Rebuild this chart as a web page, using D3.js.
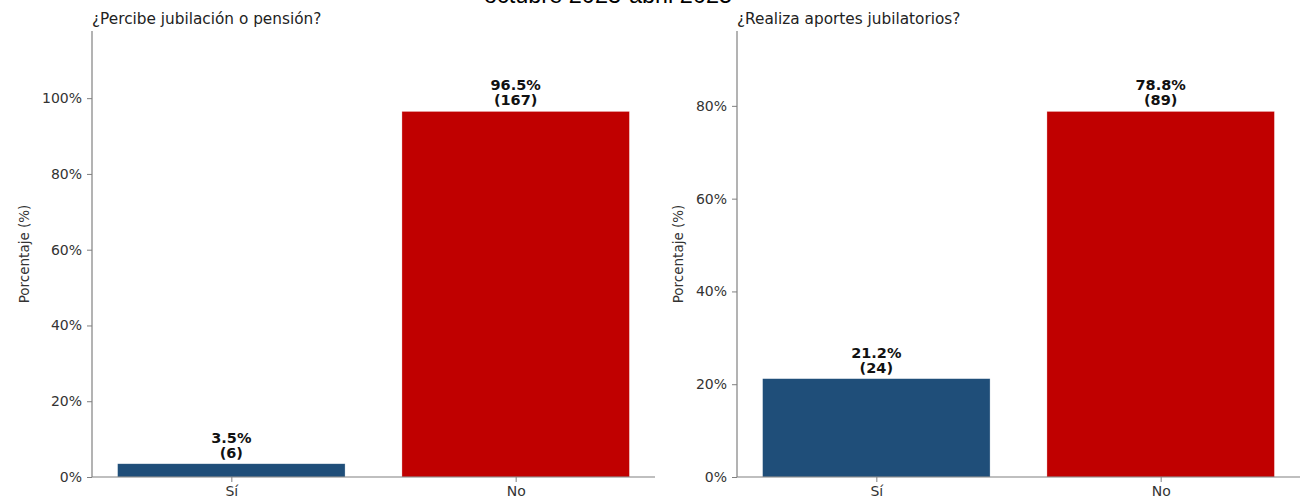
<!DOCTYPE html>
<html><head><meta charset="utf-8">
<script src="https://cdn.jsdelivr.net/npm/d3@7/dist/d3.min.js"></script>
<style>body{margin:0;background:#fff}svg{display:block}</style>
</head><body>
<svg id="c" width="1311" height="504"></svg>
<script>
const suptitle = "octubre 2023-abril 2025";
const categories = ["Sí", "No"];
const panelTitles = ["¿Percibe jubilación o pensión?", "¿Realiza aportes jubilatorios?"];
const pensionPct = [3.5, 96.5];
const pensionN = [6, 167];
const aportesPct = [21.2, 78.8];
const aportesN = [24, 89];
const pensionTicks = [0, 20, 40, 60, 80, 100];
const aportesTicks = [0, 20, 40, 60, 80];
const barColors = ["#1f4e79", "#c00000"];

const svg = d3.select("#c");
svg.append("text").attr("x", 608).attr("y", 3).attr("text-anchor", "middle")
  .attr("font-family", "Liberation Sans, Arial, sans-serif").attr("font-size", 23.5)
  .attr("fill", "#000").text(suptitle);

const panels = [
  {x0: 92, x1: 655, title: panelTitles[0], pct: pensionPct, n: pensionN, ticks: pensionTicks},
  {x0: 737, x1: 1300, title: panelTitles[1], pct: aportesPct, n: aportesN, ticks: aportesTicks}
];
const yTop = 31, yBot = 477;
const font = "DejaVu Sans, sans-serif";

panels.forEach(p => {
  const g = svg.append("g");
  const x = d3.scaleLinear().domain([-0.49, 1.49]).range([p.x0, p.x1]);
  const y = d3.scaleLinear().domain([0, d3.max(p.pct) * 1.22]).range([yBot, yTop]);
  const bw = x(0.8) - x(0);
  g.selectAll("rect").data(p.pct).join("rect")
    .attr("x", (d, i) => x(i) - bw / 2).attr("width", bw)
    .attr("y", d => y(d)).attr("height", d => yBot - y(d))
    .attr("fill", (d, i) => barColors[i])
    .attr("stroke", "#ffffff").attr("stroke-opacity", 0.5).attr("stroke-width", 0.6);

  const ya = g.append("g").attr("transform", `translate(${p.x0},0)`)
    .call(d3.axisLeft(y).tickValues(p.ticks).tickFormat(d => d + "%").tickSize(5).tickPadding(5));
  const xa = g.append("g").attr("transform", `translate(0,${yBot})`)
    .call(d3.axisBottom(x).tickValues([0, 1]).tickFormat(i => categories[i]).tickSize(5).tickPadding(4));
  [ya, xa].forEach(a => {
    a.select(".domain").attr("stroke", "#808080").attr("stroke-width", 1.2);
    a.selectAll(".tick line").attr("stroke", "#808080");
    a.selectAll(".tick text").attr("font-family", font).attr("font-size", 14).attr("fill", "#333");
  });
  ya.select(".domain").attr("d", `M0,${yBot}V${yTop}`);
  xa.select(".domain").attr("d", `M${p.x0},0H${p.x1}`);

  let maxW = 0;
  ya.selectAll(".tick text").each(function () { maxW = Math.max(maxW, this.getBBox().width); });

  g.append("text").attr("x", p.x0).attr("y", 24).attr("font-family", font)
    .attr("font-size", 15.3).attr("fill", "#222").text(p.title);
  g.append("text").attr("transform", `translate(${p.x0 - maxW - 28},${(yTop + yBot) / 2}) rotate(-90)`)
    .attr("text-anchor", "middle").attr("dy", "0.35em").attr("font-family", font)
    .attr("font-size", 13.5).attr("fill", "#333").text("Porcentaje (%)");

  const lab = g.selectAll("text.lab").data(p.pct).join("text").attr("class", "lab")
    .attr("text-anchor", "middle").attr("font-family", font).attr("font-weight", "bold")
    .attr("font-size", 14.5).attr("fill", "#111");
  lab.append("tspan").attr("x", (d, i) => x(i)).attr("y", d => y(d) - 21).text(d => d.toFixed(1) + "%");
  lab.append("tspan").attr("x", (d, i) => x(i)).attr("y", d => y(d) - 6).text((d, i) => "(" + p.n[i] + ")");
});
</script>
</body></html>
